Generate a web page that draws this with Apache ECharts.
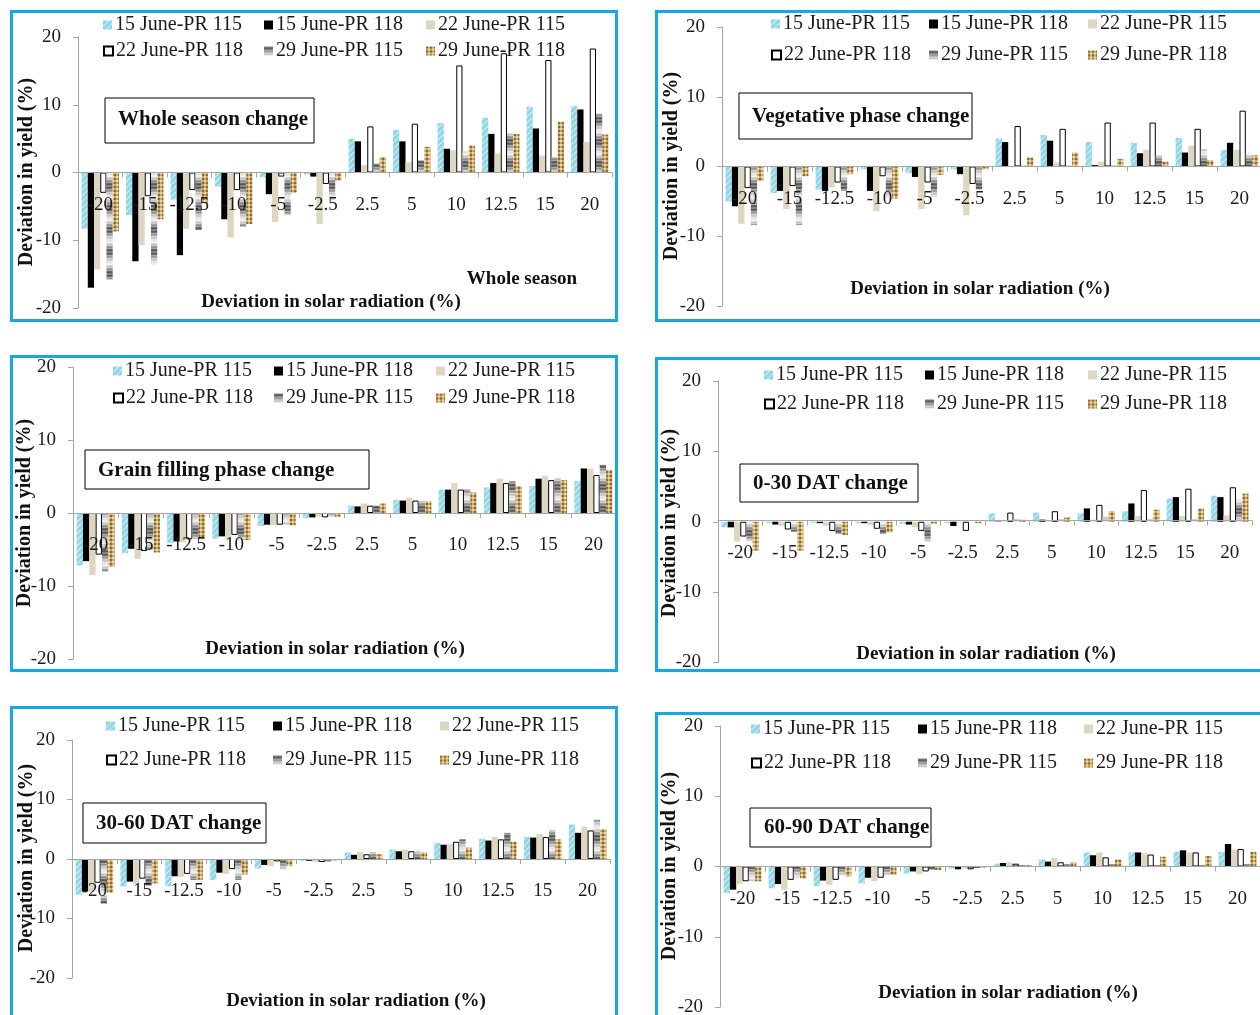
<!DOCTYPE html>
<html><head><meta charset="utf-8">
<script src="https://cdn.jsdelivr.net/npm/echarts@6/dist/echarts.min.js"></script>
<style>
html,body{margin:0;padding:0;background:#fff;width:1260px;height:1015px;overflow:hidden;position:relative}
.chart{position:absolute}
.frame{position:absolute;box-sizing:border-box;border:3px solid #18a7e4;pointer-events:none}
</style></head>
<body>
<script>
// ---------- DATA ----------
const categories = ['-20','-15','-12.5','-10','-5','-2.5','2.5','5','10','12.5','15','20'];
const seriesNames = ['15 June-PR 115','15 June-PR 118','22 June-PR 115','22 June-PR 118','29 June-PR 115','29 June-PR 118'];
const yTicks = [-20,-10,0,10,20];

// rows follow seriesNames order
const wholeSeason = [
  [-8.3,-6.3,-4.0,-2.1,-0.7,-0.3,5.0,6.3,7.3,8.1,9.7,9.8],
  [-17.0,-13.1,-12.2,-6.9,-3.2,-0.6,4.6,4.6,3.5,5.7,6.5,9.3],
  [-14.3,-10.7,-8.3,-9.6,-7.3,-7.6,1.1,1.5,3.3,2.8,2.5,4.5],
  [-3.0,-3.5,-2.6,-2.6,-0.6,-1.7,6.8,7.2,15.8,17.6,16.6,18.3],
  [-15.8,-13.7,-8.5,-8.0,-6.3,-4.1,1.3,1.8,3.2,5.8,2.3,8.7],
  [-8.7,-6.9,-4.5,-7.6,-3.0,-1.2,2.3,3.8,4.0,5.7,7.5,5.6]
];
const vegetative = [
  [-5.0,-3.8,-3.3,-0.4,-0.9,-0.4,4.0,4.5,3.5,3.4,4.1,2.4],
  [-5.7,-3.5,-3.5,-3.5,-1.5,-1.1,3.5,3.7,0.2,1.9,2.0,3.4],
  [-8.2,-6.1,-3.0,-6.4,-6.1,-7.0,0.1,0.6,0.7,2.4,3.0,2.4],
  [-3.1,-2.8,-2.3,-1.4,-2.3,-2.5,5.8,5.4,6.3,6.3,5.4,8.0],
  [-8.4,-8.4,-3.5,-4.5,-4.5,-3.3,0.1,0.1,0.1,1.6,2.5,1.9],
  [-2.1,-1.4,-1.1,-4.6,-1.2,-0.4,1.3,2.0,1.1,0.7,0.9,1.6]
];
const grainFilling = [
  [-7.2,-5.5,-4.1,-3.5,-1.8,-0.7,1.0,1.8,3.2,3.5,3.7,4.4],
  [-6.6,-4.9,-3.9,-3.2,-1.6,-0.6,0.9,1.7,3.2,4.1,4.7,6.1],
  [-8.5,-6.3,-4.0,-3.6,-1.7,-0.5,1.3,2.1,4.1,4.7,5.1,6.1],
  [-5.7,-5.2,-3.6,-3.0,-1.6,-0.6,1.0,1.7,3.2,4.1,4.5,5.2],
  [-8.0,-5.0,-3.6,-3.7,-1.6,-0.5,1.0,1.7,3.2,4.4,4.8,6.6],
  [-7.4,-5.4,-3.6,-3.7,-1.7,-0.5,1.3,1.6,2.8,3.7,4.5,5.9]
];
const dat0to30 = [
  [-0.8,-0.2,-0.2,-0.2,-0.3,-0.2,1.2,1.3,1.2,1.5,3.3,3.7],
  [-0.8,-0.4,-0.2,-0.2,-0.4,-0.6,0.05,0.3,1.9,2.6,3.5,3.5],
  [-2.8,-0.6,-0.6,-0.5,-0.8,-0.1,0.1,0.1,0.3,0.8,0.8,0.9],
  [-2.1,-1.1,-1.3,-1.0,-1.3,-1.3,1.3,1.5,2.4,4.5,4.7,4.9],
  [-2.7,-1.4,-1.7,-1.7,-2.8,0,0.4,0.4,0.7,0.4,0.4,3.2],
  [-4.1,-4.1,-1.9,-1.5,-0.3,-0.2,0.3,0.6,1.5,1.7,1.9,4.0]
];
const dat30to60 = [
  [-6.0,-4.6,-4.6,-3.5,-1.6,-0.3,1.1,1.6,2.7,3.4,3.7,5.8],
  [-5.4,-3.8,-2.9,-2.3,-1.0,-0.3,0.7,1.3,2.4,3.1,3.6,4.4],
  [-5.5,-4.2,-3.0,-2.5,-1.2,-0.5,1.2,1.6,2.5,3.7,4.2,5.4],
  [-4.0,-3.3,-2.5,-1.7,-0.4,-0.5,0.8,1.3,2.9,3.3,3.7,4.8],
  [-7.5,-4.5,-3.5,-3.5,-1.8,-0.4,1.2,1.6,3.3,4.4,4.9,6.6],
  [-5.7,-4.1,-3.5,-2.6,-1.2,-0.3,0.8,1.1,1.9,2.9,3.3,5.0]
];
const dat60to90 = [
  [-3.8,-3.1,-2.8,-2.4,-1.0,-0.3,0.4,1.0,2.0,2.0,2.1,2.1],
  [-3.3,-2.5,-2.0,-1.6,-0.7,-0.4,0.5,0.7,1.6,2.0,2.3,3.2],
  [-2.5,-3.3,-2.6,-2.1,-1.1,-0.3,0.6,1.2,2.0,1.9,2.0,2.4],
  [-2.1,-1.9,-1.9,-1.6,-0.7,-0.4,0.4,0.6,1.3,1.7,2.0,2.5],
  [-2.1,-1.7,-1.3,-1.2,-0.5,-0.2,0.2,0.3,0.3,0.2,0.2,0.3],
  [-2.1,-1.7,-1.4,-1.2,-0.5,-0.2,0.2,0.6,1.0,1.4,1.5,2.1]
];

// ---------- STYLE / LAYOUT ----------
function pat(w,h,draw){const c=document.createElement('canvas');c.width=w;c.height=h;draw(c.getContext('2d'));return {image:c,repeat:'repeat'};}
const pBlue = pat(6,6,g=>{g.fillStyle='#8fd6e6';g.fillRect(0,0,6,6);g.strokeStyle='#d4f0f6';g.lineWidth=1.2;g.beginPath();g.moveTo(0,6);g.lineTo(6,0);g.stroke();});
const pGrey = pat(4,22,g=>{const gr=g.createLinearGradient(0,0,0,22);gr.addColorStop(0,'#3a3a3a');gr.addColorStop(0.3,'#bdbdbd');gr.addColorStop(0.55,'#f2f2f2');gr.addColorStop(0.8,'#8a8a8a');gr.addColorStop(1,'#3a3a3a');g.fillStyle=gr;g.fillRect(0,0,4,22);g.fillStyle='rgba(255,255,255,0.35)';for(let y=0;y<22;y+=3)g.fillRect(0,y,4,1);});
const pTan = pat(4,4,g=>{g.fillStyle='#c9a86a';g.fillRect(0,0,4,4);g.fillStyle='#8c6a34';g.fillRect(0,0,2,2);g.fillStyle='#ead7a6';g.fillRect(2,2,2,2);});
const seriesStyles = [
  {color:pBlue},
  {color:'#000'},
  {color:'#ddd7c2'},
  {color:'#fff',borderColor:'#000',borderWidth:1},
  {color:pGrey},
  {color:pTan}
];
const FONT = '"Liberation Serif","Times New Roman",serif';

const panels = [
  {rect:[10,10,608,312], grid:[78,37,534,271], data:wholeSeason, lx:[103,264,426], ly:[23,49],
   box:[105,98,209,45], title:'Whole season change', tx:118, ty:120, yName:[27,172], xName:[331,302], extra:{t:'Whole season',x:522,y:279}},
  {rect:[655,10,620,312], grid:[722,27,540,279], data:vegetative, lx:[771,929,1088], ly:[22,53],
   box:[739,93,233,46], title:'Vegetative phase change', tx:752, ty:117, yName:[672,166], xName:[980,289]},
  {rect:[10,355,608,317], grid:[73,367,543,292], data:grainFilling, lx:[113,274,436], ly:[369,396],
   box:[85,450,284,39], title:'Grain filling phase change', tx:98, ty:471, yName:[25,513], xName:[335,649]},
  {rect:[655,357,620,315], grid:[718,381,534,284], data:dat0to30, lx:[764,925,1088], ly:[373,402],
   box:[740,464,178,38], title:'0-30 DAT change', tx:753, ty:484, yName:[670,523], xName:[986,654]},
  {rect:[10,706,608,330], grid:[72,740,538,238], data:dat30to60, lx:[106,273,440], ly:[724,758],
   box:[83,803,183,40], title:'30-60 DAT change', tx:96, ty:824, yName:[27,858], xName:[356,1001]},
  {rect:[655,712,620,330], grid:[720,726,540,281], data:dat60to90, lx:[751,918,1084], ly:[727,761],
   box:[750,808,181,39], title:'60-90 DAT change', tx:764, ty:828, yName:[670,866], xName:[1008,993]}
];

panels.forEach((p,pi)=>{
  const [L,T,W,H]=p.rect;
  const div=document.createElement('div');div.className='chart';
  div.style.cssText=`left:${L}px;top:${T}px;width:${W}px;height:${H}px`;
  document.body.appendChild(div);
  const fr=document.createElement('div');fr.className='frame';
  fr.style.cssText=`left:${L}px;top:${T}px;width:${W}px;height:${H}px`;
  document.body.appendChild(fr);
  const [gx,gy,gw,gh]=p.grid;
  const legends=seriesNames.map((n,i)=>({
    data:[n], left:p.lx[i%3]-L, top:p.ly[Math.floor(i/3)]-T-8, padding:0,
    itemWidth:9,itemHeight:9,itemGap:4, icon:'rect',
    textStyle:{fontFamily:FONT,fontSize:20,color:'#1a1a1a',padding:[0,0,0,-2]}
  }));
  const graphic=[
    {type:'rect',shape:{x:p.box[0]-L,y:p.box[1]-T,width:p.box[2],height:p.box[3]},style:{fill:'#fff',stroke:'#000',lineWidth:1},z:20},
    {type:'text',x:p.tx-L,y:p.ty-T,style:{text:p.title,font:`bold 21px ${FONT}`,fill:'#111',verticalAlign:'middle'},z:21},
    {type:'text',x:p.yName[0]-L,y:p.yName[1]-T,rotation:Math.PI/2,style:{text:'Deviation in yield (%)',font:`bold 20px ${FONT}`,fill:'#111',align:'center',verticalAlign:'middle'},z:21},
    {type:'text',x:p.xName[0]-L,y:p.xName[1]-T,style:{text:'Deviation in solar radiation (%)',font:`bold 19px ${FONT}`,fill:'#111',align:'center',verticalAlign:'middle'},z:21}
  ];
  if(p.extra) graphic.push({type:'text',x:p.extra.x-L,y:p.extra.y-T,style:{text:p.extra.t,font:`bold 19px ${FONT}`,fill:'#111',align:'center',verticalAlign:'middle'},z:21});
  const chart=echarts.init(div,null,{renderer:'canvas'});
  chart.setOption({
    animation:false,
    legend:legends,
    grid:{left:gx-L,top:gy-T,width:gw,height:gh,containLabel:false},
    xAxis:{type:'category',data:categories,z:10,offset:-gh/2,
      axisLine:{onZero:false,lineStyle:{color:'#a6a6a6',width:1}},
      axisTick:{show:true,length:5,lineStyle:{color:'#a6a6a6'}},
      axisLabel:{margin:23,fontFamily:FONT,fontSize:19,color:'#1a1a1a',interval:0}},
    yAxis:{type:'value',min:yTicks[0],max:yTicks[yTicks.length-1],interval:10,
      axisLine:{show:true,lineStyle:{color:'#a6a6a6'}},
      axisTick:{show:true,length:5,lineStyle:{color:'#a6a6a6'}},
      splitLine:{show:false},
      axisLabel:{margin:17,fontFamily:FONT,fontSize:19,color:'#1a1a1a'}},
    series:seriesNames.map((n,i)=>({name:n,type:'bar',data:p.data[i],barGap:'0%',barCategoryGap:'16%',itemStyle:seriesStyles[i]})),
    graphic:graphic
  });
});
</script>
</body></html>
